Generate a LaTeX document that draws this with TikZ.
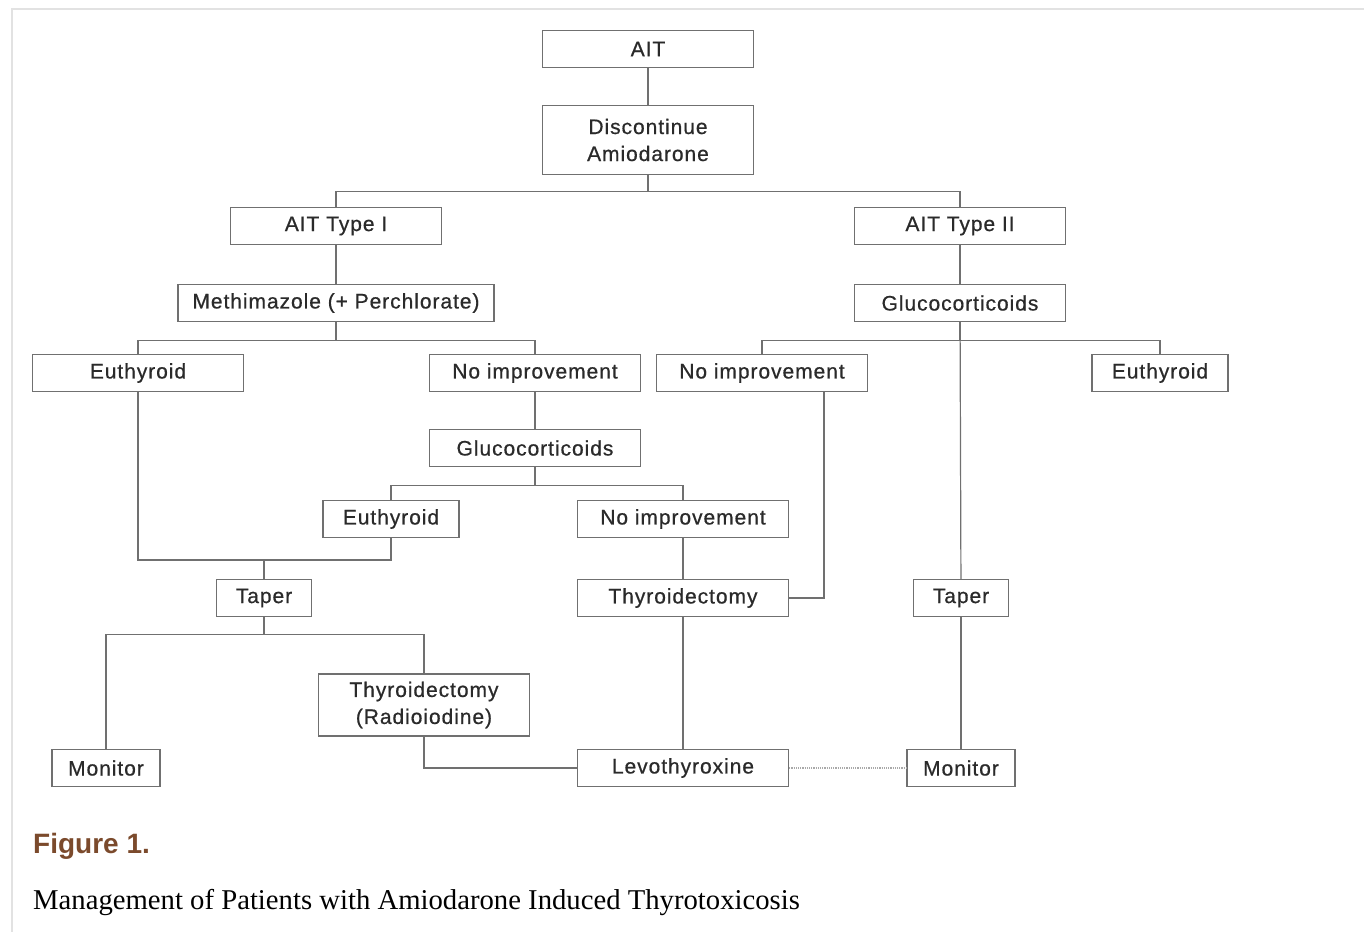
\documentclass[tikz,border=0pt]{standalone}
\usepackage{fontspec}
\setmainfont{Liberation Serif}
\newfontfamily\boxfont[LetterSpace=4.5,FakeBold=0.6]{Liberation Sans}
\newfontfamily\capfont{Liberation Sans}
\usepackage{tikz}

\definecolor{boxline}{HTML}{707070}
\definecolor{boxtext}{HTML}{2A2A2A}
\definecolor{figbrown}{HTML}{7B4A2C}
\definecolor{framegray}{HTML}{E2E2E2}

\tikzset{
  box/.style={draw=boxline, line width=1.3pt, fill=white, inner sep=0pt,
    minimum height=37pt, text=boxtext, align=center,
    font=\boxfont\fontsize{21}{27}\selectfont},
  widebox/.style={box, minimum width=211pt},
  shortbox/.style={box, minimum width=136pt},
  link/.style={draw=boxline, line width=1.2pt},
}

\begin{document}
\begin{tikzpicture}[x=1pt,y=-1pt]
    \useasboundingbox (0,0) rectangle (1364,932);
    \draw[framegray, line width=2pt] (12,932) -- (12,9) -- (1364,9);

    \node[widebox] (AIT) at (648,49) {AIT};
    \node[widebox, minimum height=69pt] (Disc) at (648,140) {Discontinue\\Amiodarone};

    \node[widebox] (Type1) at (336,226) {AIT Type I};
    \node[widebox] (Type2) at (960,226) {AIT Type II};

    \node[box, minimum width=316pt] (Methi) at (336,303) {Methimazole (+ Perchlorate)};
    \node[widebox] (Gluco2) at (960,303) {Glucocorticoids};

    \node[widebox] (Euth1) at (138,373) {Euthyroid};
    \node[widebox] (NoImp1) at (535,373) {No improvement};
    \node[widebox] (NoImp2) at (762,373) {No improvement};
    \node[shortbox] (Euth2) at (1160,373) {Euthyroid};

    \node[widebox] (Gluco1) at (535,448) {Glucocorticoids};

    \node[shortbox] (Euth3) at (391,519) {Euthyroid};
    \node[widebox] (NoImp3) at (683,519) {No improvement};

    \coordinate (join1) at (264,560);
    \node[box, minimum width=95pt] (Taper1) at (264,598) {Taper};
    \node[widebox] (Thyro1) at (683,598) {Thyroidectomy};
    \node[box, minimum width=95pt] (Taper2) at (961,598) {Taper};

    \node[widebox, minimum height=62pt] (Thyro2) at (424,705) {Thyroidectomy\\(Radioiodine)};

    \node[box, minimum width=108pt] (Monitor1) at (106,768) {Monitor};
    \node[widebox] (Levo) at (683,768) {Levothyroxine};
    \node[box, minimum width=108pt] (Monitor2) at (961,768) {Monitor};

    \node[anchor=base west, inner sep=0pt, text=figbrown,
      font=\capfont\bfseries\fontsize{28}{32}\selectfont] (FigLabel) at (33,853) {Figure 1.};
    \node[anchor=base west, inner sep=0pt,
      font=\fontsize{28.7}{34}\selectfont] (FigText) at (33,909)
      {Management of Patients with Amiodarone Induced Thyrotoxicosis};

    \draw[link] (AIT) -- (Disc);
    \draw[link] (Disc.south) -- ++(0,16) -| (Type1.north);
    \draw[link] (Disc.south) -- ++(0,16) -| (Type2.north);

    \draw[link] (Type1) -- (Methi);
    \draw[link] (Type2) -- (Gluco2);

    \draw[link] (Methi.south) -- ++(0,18) -| (Euth1.north);
    \draw[link] (Methi.south) -- ++(0,18) -| (NoImp1.north);
    \draw[link] (Gluco2.south) -- ++(0,18) -| (NoImp2.north);
    \draw[link] (Gluco2.south) -- ++(0,18) -| (Euth2.north);
    \draw[link] (Gluco2) -- (Taper2);

    \draw[link] (NoImp1) -- (Gluco1);
    \draw[link] (Gluco1.south) -- ++(0,18) -| (Euth3.north);
    \draw[link] (Gluco1.south) -- ++(0,18) -| (NoImp3.north);

    \draw[link] (Euth1.south) |- (join1) -- (Taper1.north);
    \draw[link] (Euth3.south) |- (join1);
    \draw[link] (NoImp3) -- (Thyro1);
    \draw[link] (Thyro1.east) -| ([xshift=62pt]NoImp2.south);

    \draw[link] (Taper1.south) -- ++(0,17) -| (Monitor1.north);
    \draw[link] (Taper1.south) -- ++(0,17) -| (Thyro2.north);
    \draw[link] (Thyro2.south) |- (Levo.west);
    \draw[link] (Thyro1) -- (Levo);
    \draw[link] (Taper2) -- (Monitor2);
    \draw[link, draw=boxline!60, densely dotted] (Levo) -- (Monitor2);
\end{tikzpicture}
\end{document}
